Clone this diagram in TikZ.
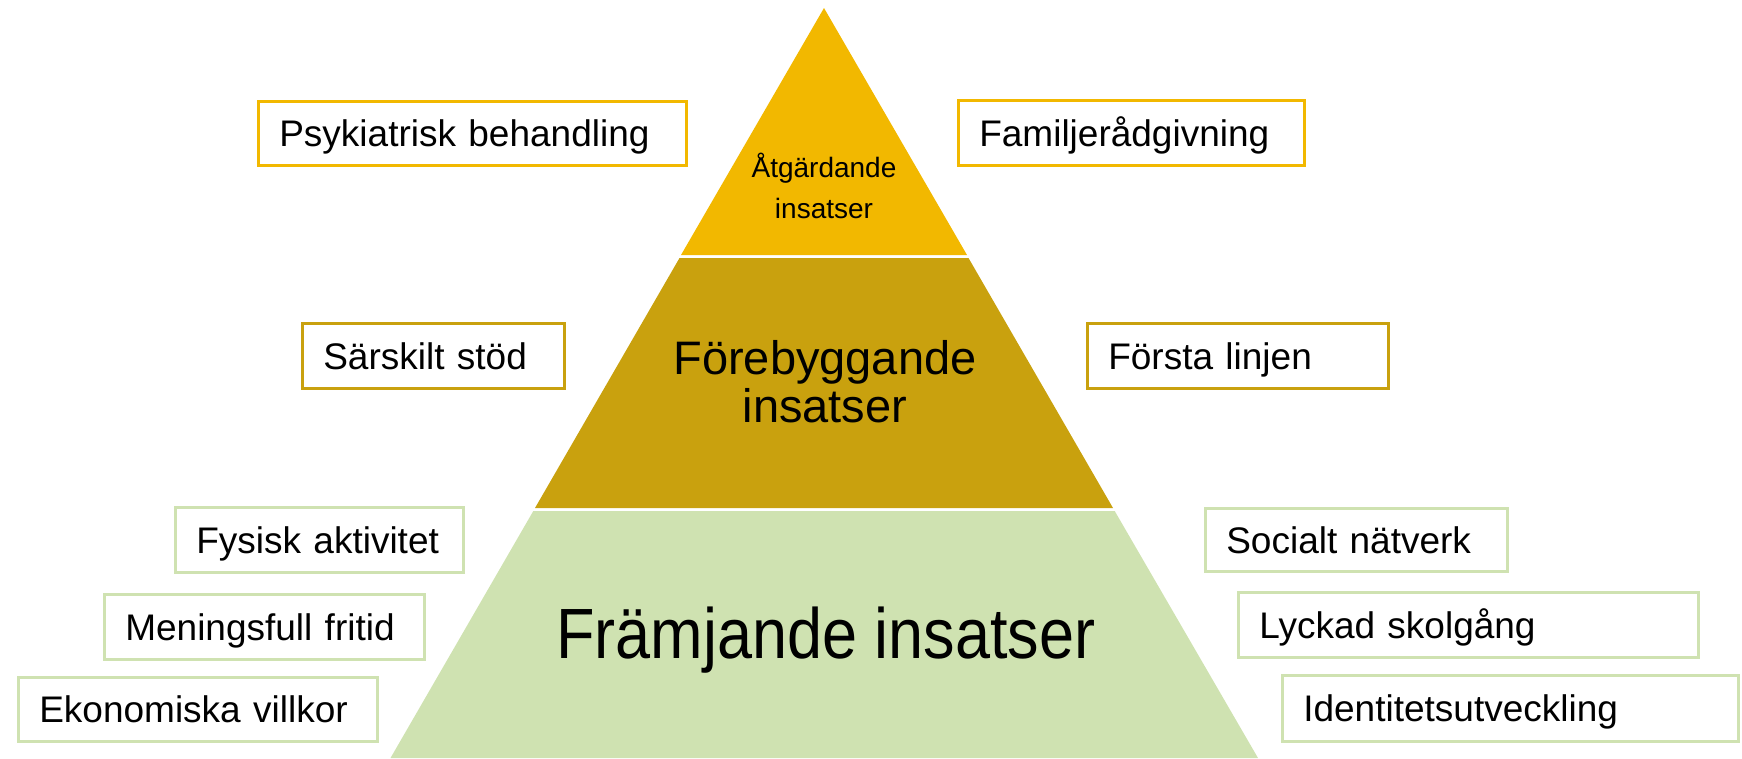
\documentclass[tikz,border=0pt]{standalone}
\usepackage{fontspec}
\setmainfont{Liberation Sans}
\definecolor{topgold}{RGB}{242,184,0}
\definecolor{midgold}{RGB}{201,161,14}
\definecolor{lowgreen}{RGB}{207,226,177}
\tikzset{
  tagbox/.style={draw=#1, line width=2.6pt, fill=white, anchor=north west,
    inner xsep=21pt, inner ysep=0pt, align=left,
    font=\fontsize{37}{44}\selectfont, text height=27pt, text depth=0pt},
  layer/.style={fill=#1, draw=none},
}
\newcommand{\tagnode}[7]{% name, color, x1, y1, x2, y2, text
  \pgfmathsetmacro{\tw}{#5-#3-42}
  \pgfmathsetmacro{\th}{#6-#4}
  \node[tagbox=#2, text width=\tw pt, minimum height=\th pt] (#1) at (#3,#4) {#7};}
\begin{document}
\begin{tikzpicture}[x=1pt,y=-1pt]
\useasboundingbox (0,0) rectangle (1742,758);
% pyramid layers
\fill[layer=topgold] (824,8) -- (967,255) -- (681,255) -- cycle;
\fill[layer=midgold] (679.5,258) -- (968.5,258) -- (1113,508) -- (535,508) -- cycle;
\fill[layer=lowgreen] (533.3,511) -- (1114.7,511) -- (1258,758) -- (390.5,758) -- cycle;
% layer labels
\node[align=center, font=\fontsize{28}{41}\selectfont] (atg) at (824,186) {Åtgärdande\\insatser};
\node[align=center, font=\fontsize{47}{48}\selectfont] (fore) at (825,382) {Förebyggande\\insatser};
\node[anchor=base, inner sep=0pt, font=\fontsize{63}{70}\selectfont] (fram) at (826,658) {\scalebox{1}[1.13]{Främjande insatser}};
% tag boxes
\tagnode{psyk}{topgold}{257}{100}{685}{164}{Psykiatrisk behandling}
\tagnode{famil}{topgold}{957}{99}{1303}{164}{Familjerådgivning}
\tagnode{sarsk}{midgold}{301}{322}{563}{387}{Särskilt stöd}
\tagnode{forsta}{midgold}{1086}{322}{1387}{387}{Första linjen}
\tagnode{fysisk}{lowgreen}{174}{506}{462}{571}{Fysisk aktivitet}
\tagnode{mening}{lowgreen}{103}{593}{423}{658}{Meningsfull fritid}
\tagnode{ekon}{lowgreen}{17}{676}{376}{740}{Ekonomiska villkor}
\tagnode{social}{lowgreen}{1204}{507}{1506}{570}{Socialt nätverk}
\tagnode{lyckad}{lowgreen}{1237}{591}{1697}{656}{Lyckad skolgång}
\tagnode{ident}{lowgreen}{1281}{674}{1737}{740}{Identitetsutveckling}
\end{tikzpicture}
\end{document}
